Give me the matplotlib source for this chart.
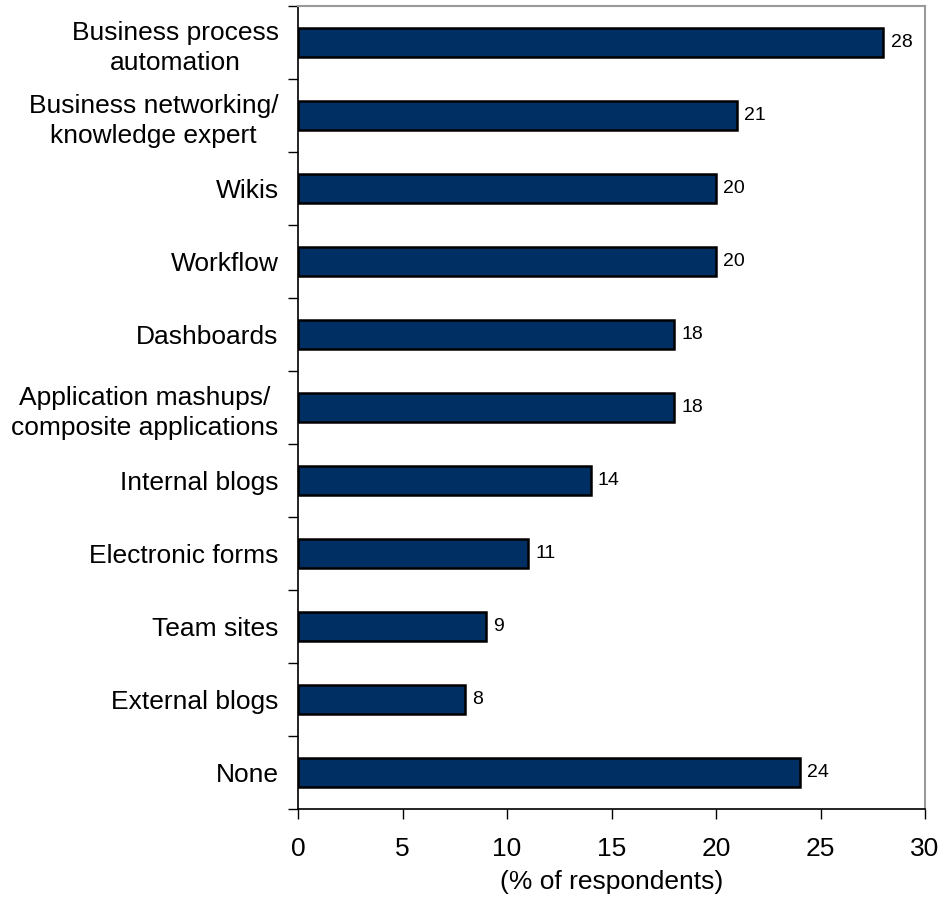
import matplotlib.pyplot as plt
import numpy as np

plt.rcParams["font.family"] = ["Liberation Sans", "DejaVu Sans"]

categories = [
    "Business process\nautomation",
    "Business networking/\nknowledge expert",
    "Wikis",
    "Workflow",
    "Dashboards",
    "Application mashups/\ncomposite applications",
    "Internal blogs",
    "Electronic forms",
    "Team sites",
    "External blogs",
    "None",
]
values = [28, 21, 20, 20, 18, 18, 14, 11, 9, 8, 24]

BAR_COLOR = "#003063"

fig = plt.figure(figsize=(9.41, 8.99), dpi=100)
ax = fig.add_axes([298 / 941, 1 - 809 / 899, (925 - 298) / 941, (809 - 6) / 899])

y = np.arange(len(categories))
ax.barh(y, values, height=0.41, color=BAR_COLOR, edgecolor="black", linewidth=1.8)

for yi, v in zip(y, values):
    ax.text(v + 0.35, yi, str(v), va="center", ha="left", fontsize=14)

ax.set_ylim(len(categories) - 0.5, -0.5)
ax.set_xlim(0, 30)

# category labels centred on bars, tick marks on the boundaries
ax.set_yticks(np.arange(-0.5, len(categories), 1))
ax.set_yticklabels([])
ax.set_yticks(y, minor=True)
ax.set_yticklabels(categories, minor=True, fontsize=19, ha="right")
for lbl in ax.get_yticklabels(minor=True):
    lbl.set_multialignment("center")
    lbl.set_linespacing(1.32)
ax.tick_params(axis="y", which="minor", length=0, pad=14)
ax.tick_params(axis="y", which="major", direction="out", length=7, width=1)
ax.tick_params(axis="x", direction="out", length=7, width=1, labelsize=19, pad=13)

ax.set_xticks(np.arange(0, 31, 5))
ax.set_xlabel("(% of respondents)", fontsize=19, labelpad=7)

for side in ["top", "right"]:
    ax.spines[side].set_color("#999999")
    ax.spines[side].set_linewidth(1.5)
for side in ["left", "bottom"]:
    ax.spines[side].set_color("black")
    ax.spines[side].set_linewidth(1.2)

fig.savefig("out.png", dpi=100)
